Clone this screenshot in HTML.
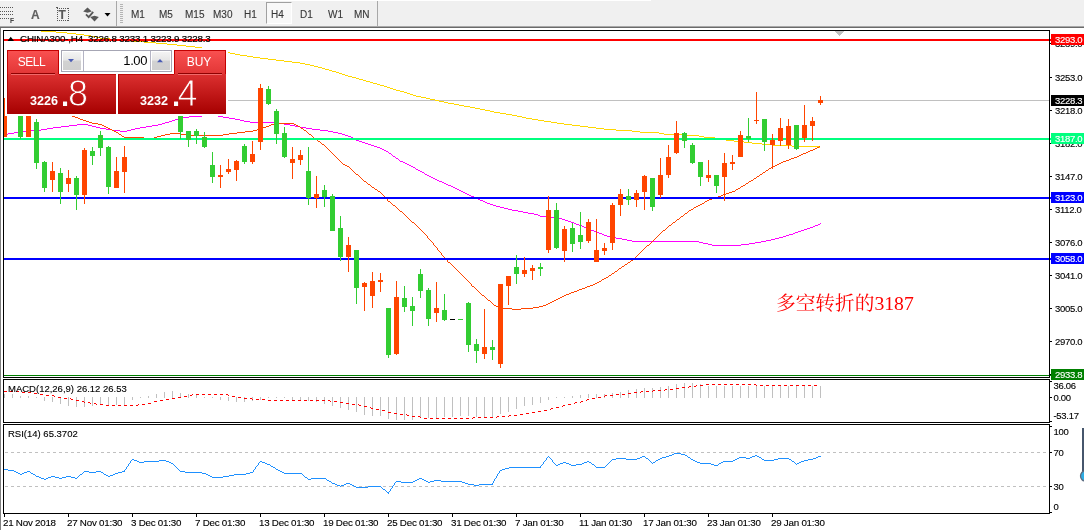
<!DOCTYPE html>
<html><head><meta charset="utf-8"><title>CHINA300 H4</title>
<style>
html,body{margin:0;padding:0;background:#fff}
body{width:1084px;height:530px;position:relative;overflow:hidden;font-family:"Liberation Sans",sans-serif;font-size:9px;color:#000}
div{position:absolute;white-space:nowrap}
.al,.pl,.dl,.il,.tf{-webkit-text-stroke:0.12px currentColor}
#tb{left:0;top:0;width:1084px;height:26px;background:#f0f0f0}
#tbw{left:0;top:0;width:651px;height:1px;background:#fff}
#tbl1{left:0;top:26px;width:1084px;height:1px;background:#a8a8a8}
#tbl2{left:0;top:27px;width:1084px;height:1px;background:#6a6a6a}
.tf{top:9px;font-size:10px;color:#383838;line-height:12px;height:12px}
.al{left:1055px;letter-spacing:-0.3px;font-size:9.5px;line-height:11px;height:11px}
.pl{left:1051px;width:33px;padding-left:4px;box-sizing:border-box;letter-spacing:-0.3px;font-size:9.5px;line-height:11px;height:11px}
.dl{top:517px;letter-spacing:-0.25px;font-size:9.8px;line-height:11px;height:11px}
.hd{left:20px;top:33px;-webkit-text-stroke:0.2px #000;letter-spacing:-0.2px;font-size:9.8px;line-height:11px;height:11px}
.il{left:8px;font-size:9.5px;line-height:11px;height:11px}
#note{left:776px;top:291px;font-family:"Liberation Serif","Noto Serif CJK SC",serif;font-size:19.7px;line-height:24px;color:#ff0000;font-weight:400}
/* one click panel */
#pw{left:5px;top:48px;width:223px;height:68px;background:#fff}
.pt{top:50px;height:24px;width:52px;background:linear-gradient(#f95050,#e23636);box-sizing:border-box;border-left:1px solid #c40000;border-right:1px solid #c40000;border-top:1px solid #c40000;color:#fff;font-size:12px;letter-spacing:-0.5px;line-height:23px;padding-right:3px;text-align:center}
.pb{top:74px;height:40px;background:linear-gradient(#dc3030,#a60000);box-sizing:border-box;border-left:1px solid #b00000;color:#fff}
.ul{height:1px;width:44px;top:73px;background:#8e0000}
.ul2{height:1px;width:44px;top:74px;background:#f06a6a}
.sm{font-weight:bold;font-size:12.6px;line-height:13px;top:21px}
.dot{font-weight:bold;font-size:29px;line-height:29px;top:8px}
.big{font-size:35.5px;line-height:36px;top:2px}
#vol{left:61px;top:50px;width:111px;height:22px;box-sizing:border-box;border:1px solid #a6a6b4;background:#fff}
.vb{top:1px;width:18px;height:18px;background:linear-gradient(#f4f4f4 0,#e6e6e6 45%,#d2d2d2 50%,#cfcfcf 100%);box-sizing:border-box}
#vt{right:24px;top:3px;font-size:13px;letter-spacing:-0.4px;line-height:14px}
.fld{left:21px;top:0;width:68px;height:20px;box-sizing:border-box;border-left:1px solid #b4b4c4;border-right:1px solid #b4b4c4}
</style></head><body>
<div id="tb"></div><div id="tbw"></div><div id="tbl1"></div><div id="tbl2"></div>
<svg id="chart" width="1084" height="530" viewBox="0 0 1084 530" style="position:absolute;left:0;top:0" shape-rendering="crispEdges">
<rect x="0" y="28" width="1084" height="502" fill="#fff"/>
<rect x="0" y="28" width="1" height="502" fill="#808080"/>
<rect x="4" y="100" width="1046" height="1" fill="#c0c0c0"/>
<path d="M41 31h15v1h-15zM56 32h11v1h-11zM67 33h9v1h-9zM76 34h8v1h-8zM84 35h7v1h-7zM91 36h5v1h-5zM96 37h4v1h-4zM100 38h10v1h-10zM110 39h10v1h-10zM120 40h11v1h-11zM131 41h13v1h-13zM144 42h12v1h-12zM156 43h11v1h-11zM167 44h10v1h-10zM177 45h9v1h-9zM186 46h9v1h-9zM195 47h7v1h-7zM202 48h6v1h-6zM208 49h5v1h-5zM213 50h6v1h-6zM219 51h5v1h-5zM224 52h6v1h-6zM230 53h5v1h-5zM235 54h5v1h-5zM240 55h7v1h-7zM247 56h6v1h-6zM253 57h7v1h-7zM260 58h8v1h-8zM268 59h8v1h-8zM276 60h8v1h-8zM284 61h8v1h-8zM292 62h8v1h-8zM300 63h5v1h-5zM305 64h5v1h-5zM310 65h4v1h-4zM314 66h4v1h-4zM318 67h4v1h-4zM322 68h3v1h-3zM325 69h4v1h-4zM329 70h3v1h-3zM332 71h4v1h-4zM336 72h3v1h-3zM339 73h3v1h-3zM342 74h3v1h-3zM345 75h3v1h-3zM348 76h4v1h-4zM352 77h4v1h-4zM356 78h3v1h-3zM359 79h4v1h-4zM363 80h3v1h-3zM366 81h4v1h-4zM370 82h3v1h-3zM373 83h4v1h-4zM377 84h3v1h-3zM380 85h4v1h-4zM384 86h3v1h-3zM387 87h3v1h-3zM390 88h3v1h-3zM393 89h3v1h-3zM396 90h4v1h-4zM400 91h4v1h-4zM404 92h3v1h-3zM407 93h3v1h-3zM410 94h3v1h-3zM413 95h3v1h-3zM416 96h5v1h-5zM421 97h5v1h-5zM426 98h4v1h-4zM430 99h5v1h-5zM435 100h4v1h-4zM439 101h5v1h-5zM444 102h4v1h-4zM448 103h6v1h-6zM454 104h5v1h-5zM459 105h5v1h-5zM464 106h6v1h-6zM470 107h5v1h-5zM475 108h5v1h-5zM480 109h5v1h-5zM485 110h5v1h-5zM490 111h4v1h-4zM494 112h6v1h-6zM500 113h6v1h-6zM506 114h6v1h-6zM512 115h5v1h-5zM517 116h5v1h-5zM522 117h4v1h-4zM526 118h6v1h-6zM532 119h6v1h-6zM538 120h6v1h-6zM544 121h7v1h-7zM551 122h6v1h-6zM557 123h7v1h-7zM564 124h8v1h-8zM572 125h8v1h-8zM580 126h8v1h-8zM588 127h8v1h-8zM596 128h8v1h-8zM604 129h12v1h-12zM616 130h16v1h-16zM632 131h8v1h-8zM640 132h19v1h-19zM659 133h5v1h-5zM664 134h22v1h-22zM686 135h13v1h-13zM699 136h5v1h-5zM704 137h11v1h-11zM715 138h5v1h-5zM720 139h6v1h-6zM726 140h8v1h-8zM734 141h10v1h-10zM744 142h8v1h-8zM752 143h10v1h-10zM762 144h10v1h-10zM772 145h20v1h-20zM792 146h27v1h-27zM819 147h1v1h-1z" fill="#ffd700"/>
<path d="M4 134h4v1h-4zM8 133h6v1h-6zM14 132h7v1h-7zM21 131h10v1h-10zM31 130h10v1h-10zM41 129h6v1h-6zM47 128h6v1h-6zM53 127h8v1h-8zM61 126h8v1h-8zM69 125h8v1h-8zM77 124h11v1h-11zM88 125h4v1h-4zM92 126h4v1h-4zM96 127h4v1h-4zM100 128h6v1h-6zM106 129h6v1h-6zM112 130h8v1h-8zM120 131h7v1h-7zM127 130h4v1h-4zM131 129h4v1h-4zM135 128h5v1h-5zM140 127h6v1h-6zM146 126h6v1h-6zM152 125h6v1h-6zM158 124h4v1h-4zM162 123h3v1h-3zM165 122h4v1h-4zM169 121h3v1h-3zM172 120h3v1h-3zM175 119h4v1h-4zM179 118h4v1h-4zM183 117h6v1h-6zM189 116h13v1h-13zM202 115h3v1h-3zM205 114h9v1h-9zM214 115h4v1h-4zM218 116h5v1h-5zM223 117h6v1h-6zM229 118h6v1h-6zM235 119h5v1h-5zM240 120h4v1h-4zM244 121h6v1h-6zM250 122h26v1h-26zM276 123h8v1h-8zM284 124h6v1h-6zM290 125h5v1h-5zM295 126h5v1h-5zM300 127h6v1h-6zM306 128h6v1h-6zM312 129h8v1h-8zM320 130h8v1h-8zM328 131h5v1h-5zM333 132h5v1h-5zM338 133h4v1h-4zM342 134h3v1h-3zM345 135h3v1h-3zM348 136h3v1h-3zM351 137h2v1h-2zM353 138h2v1h-2zM355 139h1v1h-1zM356 140h3v1h-3zM359 141h3v1h-3zM362 142h3v1h-3zM365 143h3v1h-3zM368 144h3v1h-3zM371 145h3v1h-3zM374 146h3v1h-3zM377 147h3v1h-3zM380 148h2v1h-2zM382 149h2v1h-2zM384 150h2v1h-2zM386 151h2v1h-2zM388 152h1v1h-1zM389 153h2v1h-2zM391 154h1v1h-1zM392 155h1v1h-1zM393 156h2v1h-2zM395 157h1v1h-1zM396 158h2v1h-2zM398 159h1v1h-1zM399 160h1v1h-1zM400 161h3v1h-3zM403 162h2v1h-2zM405 163h2v1h-2zM407 164h2v1h-2zM409 165h2v1h-2zM411 166h2v1h-2zM413 167h2v1h-2zM415 168h1v1h-1zM416 169h2v1h-2zM418 170h2v1h-2zM420 171h2v1h-2zM422 172h2v1h-2zM424 173h1v1h-1zM425 174h2v1h-2zM427 175h2v1h-2zM429 176h2v1h-2zM431 177h2v1h-2zM433 178h2v1h-2zM435 179h2v1h-2zM437 180h2v1h-2zM439 181h3v1h-3zM442 182h2v1h-2zM444 183h2v1h-2zM446 184h2v1h-2zM448 185h3v1h-3zM451 186h2v1h-2zM453 187h2v1h-2zM455 188h2v1h-2zM457 189h2v1h-2zM459 190h2v1h-2zM461 191h2v1h-2zM463 192h2v1h-2zM465 193h2v1h-2zM467 194h2v1h-2zM469 195h2v1h-2zM471 196h3v1h-3zM474 197h2v1h-2zM476 198h2v1h-2zM478 199h2v1h-2zM480 200h3v1h-3zM483 201h2v1h-2zM485 202h2v1h-2zM487 203h3v1h-3zM490 204h3v1h-3zM493 205h3v1h-3zM496 206h4v1h-4zM500 207h4v1h-4zM504 208h4v1h-4zM508 209h4v1h-4zM512 210h6v1h-6zM518 211h5v1h-5zM523 212h5v1h-5zM528 213h6v1h-6zM534 214h4v1h-4zM538 215h2v1h-2zM540 216h8v1h-8zM548 217h8v1h-8zM556 218h6v1h-6zM562 219h3v1h-3zM565 220h3v1h-3zM568 221h3v1h-3zM571 222h3v1h-3zM574 223h2v1h-2zM576 224h3v1h-3zM579 225h3v1h-3zM582 226h2v1h-2zM584 227h3v1h-3zM587 228h2v1h-2zM589 229h2v1h-2zM591 230h3v1h-3zM594 231h2v1h-2zM596 232h3v1h-3zM599 233h3v1h-3zM602 234h2v1h-2zM604 235h3v1h-3zM607 236h4v1h-4zM611 237h5v1h-5zM616 238h6v1h-6zM622 239h5v1h-5zM627 240h5v1h-5zM632 241h67v1h-67zM699 242h4v1h-4zM703 243h5v1h-5zM708 244h4v1h-4zM712 245h29v1h-29zM741 244h8v1h-8zM749 243h6v1h-6zM755 242h6v1h-6zM761 241h5v1h-5zM766 240h5v1h-5zM771 239h4v1h-4zM775 238h4v1h-4zM779 237h4v1h-4zM783 236h3v1h-3zM786 235h3v1h-3zM789 234h4v1h-4zM793 233h2v1h-2zM795 232h3v1h-3zM798 231h3v1h-3zM801 230h3v1h-3zM804 229h3v1h-3zM807 228h3v1h-3zM810 227h3v1h-3zM813 226h2v1h-2zM815 225h3v1h-3zM818 224h2v1h-2zM820 223h1v1h-1z" fill="#ff00ff"/>
<path d="M60 110h2v1h-2zM62 111h2v1h-2zM64 112h2v1h-2zM66 113h2v1h-2zM68 114h2v1h-2zM70 115h2v1h-2zM72 116h3v1h-3zM75 117h3v1h-3zM78 118h2v1h-2zM80 119h3v1h-3zM83 120h3v1h-3zM86 121h3v1h-3zM89 122h3v1h-3zM92 123h6v1h-6zM98 124h4v1h-4zM102 125h2v1h-2zM104 126h2v1h-2zM106 127h2v1h-2zM108 128h2v1h-2zM110 129h2v1h-2zM112 130h2v1h-2zM114 131h2v1h-2zM116 132h2v1h-2zM118 133h1v1h-1zM119 134h2v1h-2zM121 135h1v1h-1zM122 136h2v1h-2zM124 137h20v1h-20zM144 138h10v1h-10zM154 137h3v1h-3zM157 136h4v1h-4zM161 135h4v1h-4zM165 134h5v1h-5zM170 133h10v1h-10zM180 134h8v1h-8zM188 135h35v1h-35zM223 134h6v1h-6zM229 133h8v1h-8zM237 132h8v1h-8zM245 131h8v1h-8zM253 130h4v1h-4zM257 129h2v1h-2zM259 128h4v1h-4zM263 127h3v1h-3zM266 126h3v1h-3zM269 125h2v1h-2zM271 124h4v1h-4zM275 123h19v1h-19zM294 124h2v1h-2zM296 125h2v1h-2zM298 126h2v1h-2zM300 127h1v1h-1zM301 128h2v1h-2zM303 129h1v1h-1zM304 130h2v1h-2zM306 131h1v1h-1zM307 132h1v1h-1zM308 133h1v1h-1zM309 134h2v1h-2zM311 135h1v1h-1zM312 136h1v1h-1zM313 137h1v1h-1zM314 138h2v1h-2zM316 139h1v1h-1zM317 140h1v1h-1zM318 141h2v1h-2zM320 142h1v1h-1zM321 143h1v1h-1zM322 144h2v1h-2zM324 145h1v1h-1zM325 146h1v1h-1zM326 147h1v1h-1zM327 148h1v1h-1zM328 149h1v1h-1zM329 150h1v1h-1zM330 151h1v1h-1zM331 152h1v1h-1zM332 153h1v1h-1zM333 154h1v1h-1zM334 155h1v1h-1zM335 156h1v1h-1zM336 157h1v1h-1zM337 158h1v1h-1zM338 159h1v1h-1zM339 160h1v1h-1zM340 161h1v1h-1zM341 162h1v1h-1zM342 163h1v1h-1zM343 164h2v1h-2zM345 165h2v1h-2zM347 166h2v1h-2zM349 167h1v1h-1zM350 168h1v1h-1zM351 169h1v1h-1zM352 170h1v1h-1zM353 171h1v1h-1zM354 172h1v1h-1zM355 173h1v1h-1zM356 174h2v1h-2zM358 175h1v1h-1zM359 176h1v1h-1zM360 177h1v1h-1zM361 178h1v1h-1zM362 179h1v1h-1zM363 180h1v1h-1zM364 181h2v1h-2zM366 182h1v1h-1zM367 183h1v1h-1zM368 184h2v1h-2zM370 185h1v1h-1zM371 186h1v1h-1zM372 187h2v1h-2zM374 188h1v1h-1zM375 189h2v1h-2zM377 190h1v1h-1zM378 191h2v1h-2zM380 192h1v1h-1zM381 193h1v1h-1zM382 194h1v1h-1zM383 195h1v1h-1zM384 196h1v1h-1zM385 197h1v1h-1zM386 198h1v1h-1zM387 199h1v2h-1zM388 201h2v1h-2zM390 202h1v1h-1zM391 203h1v1h-1zM392 204h1v1h-1zM393 205h2v1h-2zM395 206h1v1h-1zM396 207h1v1h-1zM397 208h1v1h-1zM398 209h1v1h-1zM399 210h1v1h-1zM400 211h2v1h-2zM402 212h1v1h-1zM403 213h1v1h-1zM404 214h1v1h-1zM405 215h1v1h-1zM406 216h1v1h-1zM407 217h1v1h-1zM408 218h1v1h-1zM409 219h1v1h-1zM410 220h1v1h-1zM411 221h1v1h-1zM412 222h2v1h-2zM414 223h1v1h-1zM415 224h1v1h-1zM416 225h1v1h-1zM417 226h1v1h-1zM418 227h1v1h-1zM419 228h1v1h-1zM420 229h1v1h-1zM421 230h1v1h-1zM422 231h1v1h-1zM423 232h1v1h-1zM424 233h1v1h-1zM425 234h1v1h-1zM426 235h1v1h-1zM427 236h1v2h-1zM428 238h1v1h-1zM429 239h1v1h-1zM430 240h1v1h-1zM431 241h1v1h-1zM432 242h1v1h-1zM433 243h1v2h-1zM434 245h1v1h-1zM435 246h1v1h-1zM436 247h1v1h-1zM437 248h1v2h-1zM438 250h1v1h-1zM439 251h1v1h-1zM440 252h1v1h-1zM441 253h1v2h-1zM442 255h1v1h-1zM443 256h1v1h-1zM444 257h1v1h-1zM445 258h1v1h-1zM446 259h1v1h-1zM447 260h1v2h-1zM448 262h2v1h-2zM450 263h1v1h-1zM451 264h1v1h-1zM452 265h1v1h-1zM453 266h1v1h-1zM454 267h1v1h-1zM455 268h1v1h-1zM456 269h1v1h-1zM457 270h1v1h-1zM458 271h1v1h-1zM459 272h1v1h-1zM460 273h1v1h-1zM461 274h1v1h-1zM462 275h1v1h-1zM463 276h1v1h-1zM464 277h1v1h-1zM465 278h1v1h-1zM466 279h1v1h-1zM467 280h1v1h-1zM468 281h1v1h-1zM469 282h1v1h-1zM470 283h1v1h-1zM471 284h1v2h-1zM472 286h2v1h-2zM474 287h1v1h-1zM475 288h1v1h-1zM476 289h1v1h-1zM477 290h1v1h-1zM478 291h1v1h-1zM479 292h1v1h-1zM480 293h1v1h-1zM481 294h1v1h-1zM482 295h2v1h-2zM484 296h1v1h-1zM485 297h1v1h-1zM486 298h1v1h-1zM487 299h1v1h-1zM488 300h2v1h-2zM490 301h1v1h-1zM491 302h1v1h-1zM492 303h1v1h-1zM493 304h1v1h-1zM494 305h2v1h-2zM496 306h2v1h-2zM498 307h2v1h-2zM500 308h12v1h-12zM512 309h9v1h-9zM521 308h12v1h-12zM533 307h6v1h-6zM539 306h4v1h-4zM543 305h3v1h-3zM546 304h2v1h-2zM548 303h2v1h-2zM550 302h2v1h-2zM552 301h2v1h-2zM554 300h2v1h-2zM556 299h2v1h-2zM558 298h2v1h-2zM560 297h2v1h-2zM562 296h2v1h-2zM564 295h2v1h-2zM566 294h3v1h-3zM569 293h2v1h-2zM571 292h3v1h-3zM574 291h3v1h-3zM577 290h2v1h-2zM579 289h3v1h-3zM582 288h3v1h-3zM585 287h2v1h-2zM587 286h3v1h-3zM590 285h3v1h-3zM593 284h2v1h-2zM595 283h2v1h-2zM597 282h2v1h-2zM599 281h2v1h-2zM601 280h1v1h-1zM602 279h2v1h-2zM604 278h2v1h-2zM606 277h2v1h-2zM608 276h1v1h-1zM609 275h2v1h-2zM611 274h1v1h-1zM612 273h2v1h-2zM614 272h1v1h-1zM615 271h2v1h-2zM617 270h1v1h-1zM618 269h1v1h-1zM619 268h2v1h-2zM621 267h1v1h-1zM622 266h2v1h-2zM624 265h1v1h-1zM625 264h2v1h-2zM627 263h1v1h-1zM628 262h2v1h-2zM630 261h1v1h-1zM631 260h2v1h-2zM633 259h1v1h-1zM634 258h1v1h-1zM635 257h1v1h-1zM636 256h1v1h-1zM637 255h1v1h-1zM638 254h1v1h-1zM639 253h1v1h-1zM640 252h1v1h-1zM641 251h1v1h-1zM642 250h1v1h-1zM643 249h1v1h-1zM644 248h1v1h-1zM645 247h1v1h-1zM646 246h1v1h-1zM647 245h2v1h-2zM649 244h1v1h-1zM650 243h1v1h-1zM651 242h1v1h-1zM652 241h1v1h-1zM653 240h1v1h-1zM654 239h1v1h-1zM655 238h1v1h-1zM656 237h1v1h-1zM657 236h1v1h-1zM658 235h1v1h-1zM659 234h1v1h-1zM660 233h1v1h-1zM661 232h1v1h-1zM662 231h1v1h-1zM663 230h2v1h-2zM665 229h1v1h-1zM666 228h1v1h-1zM667 227h1v1h-1zM668 226h1v1h-1zM669 225h2v1h-2zM671 224h1v1h-1zM672 223h1v1h-1zM673 222h2v1h-2zM675 221h1v1h-1zM676 220h1v1h-1zM677 219h2v1h-2zM679 218h1v1h-1zM680 217h1v1h-1zM681 216h2v1h-2zM683 215h1v1h-1zM684 214h1v1h-1zM685 213h2v1h-2zM687 212h1v1h-1zM688 211h1v1h-1zM689 210h2v1h-2zM691 209h2v1h-2zM693 208h1v1h-1zM694 207h2v1h-2zM696 206h2v1h-2zM698 205h2v1h-2zM700 204h2v1h-2zM702 203h2v1h-2zM704 202h1v1h-1zM705 201h2v1h-2zM707 200h2v1h-2zM709 199h3v1h-3zM712 198h3v1h-3zM715 197h3v1h-3zM718 196h3v1h-3zM721 195h2v1h-2zM723 194h3v1h-3zM726 193h3v1h-3zM729 192h3v1h-3zM732 191h3v1h-3zM735 190h1v1h-1zM736 189h2v1h-2zM738 188h2v1h-2zM740 187h1v1h-1zM741 186h2v1h-2zM743 185h2v1h-2zM745 184h1v1h-1zM746 183h2v1h-2zM748 182h1v1h-1zM749 181h2v1h-2zM751 180h2v1h-2zM753 179h1v1h-1zM754 178h2v1h-2zM756 177h1v1h-1zM757 176h2v1h-2zM759 175h1v1h-1zM760 174h2v1h-2zM762 173h1v1h-1zM763 172h2v1h-2zM765 171h1v1h-1zM766 170h2v1h-2zM768 169h1v1h-1zM769 168h2v1h-2zM771 167h2v1h-2zM773 166h2v1h-2zM775 165h2v1h-2zM777 164h2v1h-2zM779 163h2v1h-2zM781 162h2v1h-2zM783 161h3v1h-3zM786 160h3v1h-3zM789 159h2v1h-2zM791 158h3v1h-3zM794 157h3v1h-3zM797 156h2v1h-2zM799 155h2v1h-2zM801 154h2v1h-2zM803 153h3v1h-3zM806 152h2v1h-2zM808 151h2v1h-2zM810 150h3v1h-3zM813 149h2v1h-2zM815 148h2v1h-2zM817 147h2v1h-2zM819 146h1v1h-1z" fill="#ff4500"/>
<rect x="4" y="39" width="1047" height="2" fill="#ff0000"/>
<rect x="4" y="138" width="1047" height="2" fill="#00ff7f"/>
<rect x="4" y="197" width="1047" height="2" fill="#0000ff"/>
<rect x="4" y="258" width="1047" height="2" fill="#0000ff"/>
<rect x="4" y="375" width="1047" height="1" fill="#008000"/>
<rect x="4" y="98" width="1" height="39" fill="#ff4500"/>
<rect x="4" y="98" width="3" height="39" fill="#ff4500"/>
<rect x="20" y="100" width="1" height="39" fill="#32cd32"/>
<rect x="18" y="100" width="5" height="37" fill="#32cd32"/>
<rect x="28" y="100" width="1" height="37" fill="#ff4500"/>
<rect x="26" y="100" width="5" height="37" fill="#ff4500"/>
<rect x="36" y="119" width="1" height="50" fill="#32cd32"/>
<rect x="34" y="122" width="5" height="41" fill="#32cd32"/>
<rect x="44" y="161" width="1" height="31" fill="#32cd32"/>
<rect x="42" y="162" width="5" height="26" fill="#32cd32"/>
<rect x="52" y="162" width="1" height="30" fill="#ff4500"/>
<rect x="50" y="171" width="5" height="9" fill="#ff4500"/>
<rect x="60" y="168" width="1" height="36" fill="#32cd32"/>
<rect x="58" y="173" width="5" height="19" fill="#32cd32"/>
<rect x="68" y="170" width="1" height="22" fill="#ff4500"/>
<rect x="66" y="178" width="5" height="6" fill="#ff4500"/>
<rect x="76" y="176" width="1" height="34" fill="#32cd32"/>
<rect x="74" y="178" width="5" height="17" fill="#32cd32"/>
<rect x="84" y="148" width="1" height="56" fill="#ff4500"/>
<rect x="82" y="150" width="5" height="45" fill="#ff4500"/>
<rect x="92" y="147" width="1" height="18" fill="#32cd32"/>
<rect x="90" y="151" width="5" height="5" fill="#32cd32"/>
<rect x="100" y="131" width="1" height="25" fill="#32cd32"/>
<rect x="98" y="135" width="5" height="13" fill="#32cd32"/>
<rect x="108" y="146" width="1" height="48" fill="#32cd32"/>
<rect x="106" y="147" width="5" height="40" fill="#32cd32"/>
<rect x="116" y="157" width="1" height="31" fill="#ff4500"/>
<rect x="114" y="171" width="5" height="17" fill="#ff4500"/>
<rect x="124" y="146" width="1" height="47" fill="#ff4500"/>
<rect x="122" y="157" width="5" height="15" fill="#ff4500"/>
<rect x="180" y="100" width="1" height="39" fill="#32cd32"/>
<rect x="178" y="100" width="5" height="32" fill="#32cd32"/>
<rect x="188" y="131" width="1" height="16" fill="#32cd32"/>
<rect x="186" y="131" width="5" height="9" fill="#32cd32"/>
<rect x="196" y="129" width="1" height="15" fill="#32cd32"/>
<rect x="194" y="131" width="5" height="5" fill="#32cd32"/>
<rect x="204" y="132" width="1" height="16" fill="#32cd32"/>
<rect x="202" y="137" width="5" height="10" fill="#32cd32"/>
<rect x="212" y="152" width="1" height="31" fill="#32cd32"/>
<rect x="210" y="165" width="5" height="12" fill="#32cd32"/>
<rect x="220" y="165" width="1" height="23" fill="#ff4500"/>
<rect x="218" y="175" width="5" height="2" fill="#ff4500"/>
<rect x="228" y="159" width="1" height="15" fill="#ff4500"/>
<rect x="226" y="169" width="5" height="3" fill="#ff4500"/>
<rect x="236" y="160" width="1" height="21" fill="#ff4500"/>
<rect x="234" y="161" width="5" height="9" fill="#ff4500"/>
<rect x="244" y="144" width="1" height="20" fill="#32cd32"/>
<rect x="242" y="146" width="5" height="16" fill="#32cd32"/>
<rect x="252" y="141" width="1" height="23" fill="#ff4500"/>
<rect x="250" y="154" width="5" height="8" fill="#ff4500"/>
<rect x="260" y="84" width="1" height="66" fill="#ff4500"/>
<rect x="258" y="88" width="5" height="54" fill="#ff4500"/>
<rect x="268" y="86" width="1" height="19" fill="#32cd32"/>
<rect x="266" y="89" width="5" height="15" fill="#32cd32"/>
<rect x="276" y="109" width="1" height="35" fill="#32cd32"/>
<rect x="274" y="111" width="5" height="23" fill="#32cd32"/>
<rect x="284" y="127" width="1" height="31" fill="#32cd32"/>
<rect x="282" y="133" width="5" height="24" fill="#32cd32"/>
<rect x="292" y="147" width="1" height="32" fill="#ff4500"/>
<rect x="290" y="159" width="5" height="4" fill="#ff4500"/>
<rect x="300" y="150" width="1" height="15" fill="#ff4500"/>
<rect x="298" y="155" width="5" height="5" fill="#ff4500"/>
<rect x="308" y="147" width="1" height="58" fill="#32cd32"/>
<rect x="306" y="171" width="5" height="27" fill="#32cd32"/>
<rect x="316" y="176" width="1" height="32" fill="#ff4500"/>
<rect x="314" y="194" width="5" height="4" fill="#ff4500"/>
<rect x="324" y="185" width="1" height="22" fill="#32cd32"/>
<rect x="322" y="190" width="5" height="7" fill="#32cd32"/>
<rect x="332" y="194" width="1" height="37" fill="#32cd32"/>
<rect x="330" y="196" width="5" height="35" fill="#32cd32"/>
<rect x="340" y="216" width="1" height="45" fill="#32cd32"/>
<rect x="338" y="228" width="5" height="29" fill="#32cd32"/>
<rect x="348" y="237" width="1" height="35" fill="#ff4500"/>
<rect x="346" y="245" width="5" height="12" fill="#ff4500"/>
<rect x="356" y="250" width="1" height="54" fill="#32cd32"/>
<rect x="354" y="250" width="5" height="38" fill="#32cd32"/>
<rect x="364" y="282" width="1" height="29" fill="#ff4500"/>
<rect x="362" y="283" width="5" height="4" fill="#ff4500"/>
<rect x="372" y="272" width="1" height="36" fill="#ff4500"/>
<rect x="370" y="281" width="5" height="15" fill="#ff4500"/>
<rect x="380" y="273" width="1" height="19" fill="#ff4500"/>
<rect x="378" y="280" width="5" height="2" fill="#ff4500"/>
<rect x="388" y="308" width="1" height="50" fill="#32cd32"/>
<rect x="386" y="308" width="5" height="47" fill="#32cd32"/>
<rect x="396" y="281" width="1" height="74" fill="#ff4500"/>
<rect x="394" y="297" width="5" height="57" fill="#ff4500"/>
<rect x="404" y="286" width="1" height="26" fill="#32cd32"/>
<rect x="402" y="298" width="5" height="9" fill="#32cd32"/>
<rect x="412" y="297" width="1" height="29" fill="#32cd32"/>
<rect x="410" y="306" width="5" height="5" fill="#32cd32"/>
<rect x="420" y="269" width="1" height="29" fill="#32cd32"/>
<rect x="418" y="274" width="5" height="17" fill="#32cd32"/>
<rect x="428" y="288" width="1" height="38" fill="#32cd32"/>
<rect x="426" y="290" width="5" height="29" fill="#32cd32"/>
<rect x="436" y="282" width="1" height="40" fill="#ff4500"/>
<rect x="434" y="308" width="5" height="5" fill="#ff4500"/>
<rect x="444" y="294" width="1" height="27" fill="#32cd32"/>
<rect x="442" y="310" width="5" height="10" fill="#32cd32"/>
<rect x="468" y="302" width="1" height="50" fill="#32cd32"/>
<rect x="466" y="303" width="5" height="42" fill="#32cd32"/>
<rect x="476" y="339" width="1" height="24" fill="#32cd32"/>
<rect x="474" y="344" width="5" height="7" fill="#32cd32"/>
<rect x="484" y="309" width="1" height="50" fill="#ff4500"/>
<rect x="482" y="347" width="5" height="7" fill="#ff4500"/>
<rect x="492" y="340" width="1" height="20" fill="#32cd32"/>
<rect x="490" y="347" width="5" height="3" fill="#32cd32"/>
<rect x="500" y="284" width="1" height="84" fill="#ff4500"/>
<rect x="498" y="284" width="5" height="80" fill="#ff4500"/>
<rect x="508" y="276" width="1" height="29" fill="#ff4500"/>
<rect x="506" y="276" width="5" height="10" fill="#ff4500"/>
<rect x="516" y="255" width="1" height="29" fill="#32cd32"/>
<rect x="514" y="267" width="5" height="7" fill="#32cd32"/>
<rect x="524" y="257" width="1" height="20" fill="#ff4500"/>
<rect x="522" y="270" width="5" height="4" fill="#ff4500"/>
<rect x="532" y="265" width="1" height="15" fill="#ff4500"/>
<rect x="530" y="268" width="5" height="3" fill="#ff4500"/>
<rect x="540" y="263" width="1" height="13" fill="#32cd32"/>
<rect x="538" y="267" width="5" height="2" fill="#32cd32"/>
<rect x="548" y="196" width="1" height="57" fill="#ff4500"/>
<rect x="546" y="210" width="5" height="40" fill="#ff4500"/>
<rect x="556" y="203" width="1" height="46" fill="#32cd32"/>
<rect x="554" y="210" width="5" height="38" fill="#32cd32"/>
<rect x="564" y="226" width="1" height="36" fill="#ff4500"/>
<rect x="562" y="229" width="5" height="22" fill="#ff4500"/>
<rect x="572" y="223" width="1" height="29" fill="#32cd32"/>
<rect x="570" y="228" width="5" height="16" fill="#32cd32"/>
<rect x="580" y="212" width="1" height="37" fill="#32cd32"/>
<rect x="578" y="235" width="5" height="7" fill="#32cd32"/>
<rect x="588" y="219" width="1" height="24" fill="#ff4500"/>
<rect x="586" y="222" width="5" height="19" fill="#ff4500"/>
<rect x="596" y="219" width="1" height="43" fill="#ff4500"/>
<rect x="594" y="250" width="5" height="12" fill="#ff4500"/>
<rect x="604" y="243" width="1" height="12" fill="#ff4500"/>
<rect x="602" y="248" width="5" height="3" fill="#ff4500"/>
<rect x="612" y="203" width="1" height="47" fill="#ff4500"/>
<rect x="610" y="205" width="5" height="38" fill="#ff4500"/>
<rect x="620" y="189" width="1" height="27" fill="#ff4500"/>
<rect x="618" y="194" width="5" height="11" fill="#ff4500"/>
<rect x="628" y="189" width="1" height="16" fill="#32cd32"/>
<rect x="626" y="196" width="5" height="4" fill="#32cd32"/>
<rect x="636" y="190" width="1" height="17" fill="#ff4500"/>
<rect x="634" y="193" width="5" height="7" fill="#ff4500"/>
<rect x="644" y="175" width="1" height="35" fill="#ff4500"/>
<rect x="642" y="176" width="5" height="16" fill="#ff4500"/>
<rect x="652" y="178" width="1" height="33" fill="#32cd32"/>
<rect x="650" y="178" width="5" height="29" fill="#32cd32"/>
<rect x="660" y="158" width="1" height="40" fill="#ff4500"/>
<rect x="658" y="175" width="5" height="20" fill="#ff4500"/>
<rect x="668" y="145" width="1" height="33" fill="#ff4500"/>
<rect x="666" y="157" width="5" height="18" fill="#ff4500"/>
<rect x="676" y="121" width="1" height="33" fill="#ff4500"/>
<rect x="674" y="133" width="5" height="20" fill="#ff4500"/>
<rect x="684" y="132" width="1" height="16" fill="#32cd32"/>
<rect x="682" y="133" width="5" height="8" fill="#32cd32"/>
<rect x="692" y="143" width="1" height="21" fill="#32cd32"/>
<rect x="690" y="145" width="5" height="18" fill="#32cd32"/>
<rect x="700" y="162" width="1" height="24" fill="#32cd32"/>
<rect x="698" y="162" width="5" height="15" fill="#32cd32"/>
<rect x="708" y="160" width="1" height="22" fill="#ff4500"/>
<rect x="706" y="175" width="5" height="3" fill="#ff4500"/>
<rect x="716" y="175" width="1" height="18" fill="#32cd32"/>
<rect x="714" y="175" width="5" height="11" fill="#32cd32"/>
<rect x="724" y="153" width="1" height="48" fill="#ff4500"/>
<rect x="722" y="163" width="5" height="14" fill="#ff4500"/>
<rect x="732" y="155" width="1" height="15" fill="#ff4500"/>
<rect x="730" y="162" width="5" height="2" fill="#ff4500"/>
<rect x="740" y="131" width="1" height="26" fill="#ff4500"/>
<rect x="738" y="135" width="5" height="22" fill="#ff4500"/>
<rect x="748" y="118" width="1" height="24" fill="#32cd32"/>
<rect x="746" y="136" width="5" height="3" fill="#32cd32"/>
<rect x="756" y="92" width="1" height="32" fill="#ff4500"/>
<rect x="754" y="120" width="5" height="1" fill="#ff4500"/>
<rect x="764" y="119" width="1" height="32" fill="#32cd32"/>
<rect x="762" y="119" width="5" height="23" fill="#32cd32"/>
<rect x="772" y="134" width="1" height="35" fill="#ff4500"/>
<rect x="770" y="140" width="5" height="5" fill="#ff4500"/>
<rect x="780" y="118" width="1" height="28" fill="#ff4500"/>
<rect x="778" y="128" width="5" height="13" fill="#ff4500"/>
<rect x="788" y="119" width="1" height="30" fill="#ff4500"/>
<rect x="786" y="126" width="5" height="19" fill="#ff4500"/>
<rect x="796" y="125" width="1" height="25" fill="#32cd32"/>
<rect x="794" y="125" width="5" height="24" fill="#32cd32"/>
<rect x="804" y="105" width="1" height="37" fill="#ff4500"/>
<rect x="802" y="125" width="5" height="13" fill="#ff4500"/>
<rect x="812" y="117" width="1" height="24" fill="#ff4500"/>
<rect x="810" y="121" width="5" height="5" fill="#ff4500"/>
<rect x="820" y="96" width="1" height="9" fill="#ff4500"/>
<rect x="818" y="100" width="5" height="3" fill="#ff4500"/>
<rect x="450" y="319" width="5" height="1" fill="#000"/>
<rect x="458" y="319" width="5" height="1" fill="#32cd32"/>
<polygon points="834,31 844,31 839,36" fill="#c0c0c0"/>
<rect x="3" y="30" width="1047" height="1" fill="#000"/>
<rect x="3" y="30" width="1" height="484" fill="#000"/>
<rect x="1049" y="30" width="1" height="484" fill="#000"/>
<rect x="3" y="377" width="1047" height="1" fill="#000"/>
<rect x="3" y="378" width="1047" height="1" fill="#fff"/>
<rect x="3" y="379" width="1047" height="1" fill="#000"/>
<rect x="3" y="422" width="1047" height="1" fill="#000"/>
<rect x="3" y="423" width="1047" height="1" fill="#fff"/>
<rect x="3" y="424" width="1047" height="1" fill="#000"/>
<rect x="3" y="513" width="1047" height="1" fill="#000"/>
<rect x="4" y="394" width="1" height="4" fill="#c0c0c0"/>
<rect x="12" y="394" width="1" height="4" fill="#c0c0c0"/>
<rect x="20" y="396" width="1" height="2" fill="#c0c0c0"/>
<rect x="28" y="396" width="1" height="2" fill="#c0c0c0"/>
<rect x="36" y="397" width="1" height="1" fill="#c0c0c0"/>
<rect x="44" y="397" width="1" height="4" fill="#c0c0c0"/>
<rect x="52" y="397" width="1" height="5" fill="#c0c0c0"/>
<rect x="60" y="397" width="1" height="7" fill="#c0c0c0"/>
<rect x="68" y="397" width="1" height="9" fill="#c0c0c0"/>
<rect x="76" y="397" width="1" height="10" fill="#c0c0c0"/>
<rect x="84" y="397" width="1" height="10" fill="#c0c0c0"/>
<rect x="92" y="397" width="1" height="9" fill="#c0c0c0"/>
<rect x="100" y="397" width="1" height="7" fill="#c0c0c0"/>
<rect x="108" y="397" width="1" height="8" fill="#c0c0c0"/>
<rect x="116" y="397" width="1" height="8" fill="#c0c0c0"/>
<rect x="124" y="397" width="1" height="9" fill="#c0c0c0"/>
<rect x="132" y="397" width="1" height="3" fill="#c0c0c0"/>
<rect x="140" y="397" width="1" height="1" fill="#c0c0c0"/>
<rect x="148" y="396" width="1" height="2" fill="#c0c0c0"/>
<rect x="156" y="394" width="1" height="4" fill="#c0c0c0"/>
<rect x="164" y="392" width="1" height="6" fill="#c0c0c0"/>
<rect x="172" y="391" width="1" height="7" fill="#c0c0c0"/>
<rect x="180" y="393" width="1" height="5" fill="#c0c0c0"/>
<rect x="188" y="394" width="1" height="4" fill="#c0c0c0"/>
<rect x="196" y="395" width="1" height="3" fill="#c0c0c0"/>
<rect x="204" y="397" width="1" height="1" fill="#c0c0c0"/>
<rect x="212" y="397" width="1" height="1" fill="#c0c0c0"/>
<rect x="220" y="397" width="1" height="3" fill="#c0c0c0"/>
<rect x="228" y="397" width="1" height="4" fill="#c0c0c0"/>
<rect x="236" y="397" width="1" height="5" fill="#c0c0c0"/>
<rect x="244" y="397" width="1" height="5" fill="#c0c0c0"/>
<rect x="252" y="397" width="1" height="4" fill="#c0c0c0"/>
<rect x="260" y="397" width="1" height="3" fill="#c0c0c0"/>
<rect x="268" y="397" width="1" height="1" fill="#c0c0c0"/>
<rect x="276" y="397" width="1" height="1" fill="#c0c0c0"/>
<rect x="284" y="397" width="1" height="1" fill="#c0c0c0"/>
<rect x="292" y="397" width="1" height="3" fill="#c0c0c0"/>
<rect x="300" y="397" width="1" height="3" fill="#c0c0c0"/>
<rect x="308" y="397" width="1" height="4" fill="#c0c0c0"/>
<rect x="316" y="397" width="1" height="5" fill="#c0c0c0"/>
<rect x="324" y="397" width="1" height="7" fill="#c0c0c0"/>
<rect x="332" y="397" width="1" height="9" fill="#c0c0c0"/>
<rect x="340" y="397" width="1" height="11" fill="#c0c0c0"/>
<rect x="348" y="397" width="1" height="13" fill="#c0c0c0"/>
<rect x="356" y="397" width="1" height="15" fill="#c0c0c0"/>
<rect x="364" y="397" width="1" height="18" fill="#c0c0c0"/>
<rect x="372" y="397" width="1" height="19" fill="#c0c0c0"/>
<rect x="380" y="397" width="1" height="19" fill="#c0c0c0"/>
<rect x="388" y="397" width="1" height="22" fill="#c0c0c0"/>
<rect x="396" y="397" width="1" height="23" fill="#c0c0c0"/>
<rect x="404" y="397" width="1" height="23" fill="#c0c0c0"/>
<rect x="412" y="397" width="1" height="23" fill="#c0c0c0"/>
<rect x="420" y="397" width="1" height="21" fill="#c0c0c0"/>
<rect x="428" y="397" width="1" height="21" fill="#c0c0c0"/>
<rect x="436" y="397" width="1" height="21" fill="#c0c0c0"/>
<rect x="444" y="397" width="1" height="20" fill="#c0c0c0"/>
<rect x="452" y="397" width="1" height="20" fill="#c0c0c0"/>
<rect x="460" y="397" width="1" height="19" fill="#c0c0c0"/>
<rect x="468" y="397" width="1" height="19" fill="#c0c0c0"/>
<rect x="476" y="397" width="1" height="20" fill="#c0c0c0"/>
<rect x="484" y="397" width="1" height="20" fill="#c0c0c0"/>
<rect x="492" y="397" width="1" height="20" fill="#c0c0c0"/>
<rect x="500" y="397" width="1" height="17" fill="#c0c0c0"/>
<rect x="508" y="397" width="1" height="15" fill="#c0c0c0"/>
<rect x="516" y="397" width="1" height="12" fill="#c0c0c0"/>
<rect x="524" y="397" width="1" height="9" fill="#c0c0c0"/>
<rect x="532" y="397" width="1" height="8" fill="#c0c0c0"/>
<rect x="540" y="397" width="1" height="6" fill="#c0c0c0"/>
<rect x="548" y="397" width="1" height="3" fill="#c0c0c0"/>
<rect x="556" y="397" width="1" height="1" fill="#c0c0c0"/>
<rect x="564" y="397" width="1" height="1" fill="#c0c0c0"/>
<rect x="572" y="396" width="1" height="2" fill="#c0c0c0"/>
<rect x="580" y="395" width="1" height="3" fill="#c0c0c0"/>
<rect x="588" y="394" width="1" height="4" fill="#c0c0c0"/>
<rect x="596" y="394" width="1" height="4" fill="#c0c0c0"/>
<rect x="604" y="394" width="1" height="4" fill="#c0c0c0"/>
<rect x="612" y="393" width="1" height="5" fill="#c0c0c0"/>
<rect x="620" y="392" width="1" height="6" fill="#c0c0c0"/>
<rect x="628" y="390" width="1" height="8" fill="#c0c0c0"/>
<rect x="636" y="389" width="1" height="9" fill="#c0c0c0"/>
<rect x="644" y="388" width="1" height="10" fill="#c0c0c0"/>
<rect x="652" y="388" width="1" height="10" fill="#c0c0c0"/>
<rect x="660" y="387" width="1" height="11" fill="#c0c0c0"/>
<rect x="668" y="386" width="1" height="12" fill="#c0c0c0"/>
<rect x="676" y="384" width="1" height="14" fill="#c0c0c0"/>
<rect x="684" y="383" width="1" height="15" fill="#c0c0c0"/>
<rect x="692" y="383" width="1" height="15" fill="#c0c0c0"/>
<rect x="700" y="384" width="1" height="14" fill="#c0c0c0"/>
<rect x="708" y="386" width="1" height="12" fill="#c0c0c0"/>
<rect x="716" y="386" width="1" height="12" fill="#c0c0c0"/>
<rect x="724" y="386" width="1" height="12" fill="#c0c0c0"/>
<rect x="732" y="386" width="1" height="12" fill="#c0c0c0"/>
<rect x="740" y="386" width="1" height="12" fill="#c0c0c0"/>
<rect x="748" y="386" width="1" height="12" fill="#c0c0c0"/>
<rect x="756" y="385" width="1" height="13" fill="#c0c0c0"/>
<rect x="764" y="386" width="1" height="12" fill="#c0c0c0"/>
<rect x="772" y="386" width="1" height="12" fill="#c0c0c0"/>
<rect x="780" y="386" width="1" height="12" fill="#c0c0c0"/>
<rect x="788" y="386" width="1" height="12" fill="#c0c0c0"/>
<rect x="796" y="386" width="1" height="12" fill="#c0c0c0"/>
<rect x="804" y="386" width="1" height="12" fill="#c0c0c0"/>
<rect x="812" y="386" width="1" height="12" fill="#c0c0c0"/>
<rect x="820" y="386" width="1" height="12" fill="#c0c0c0"/>
<path d="M4 391h3v1h-3zM10 391h3v1h-3zM16 391h3v1h-3zM22 392h3v1h-3zM28 392h3v1h-3zM34 393h3v1h-3zM40 394h3v1h-3zM46 395h3v1h-3zM52 395h2v1h-2zM54 396h1v1h-1zM58 397h3v1h-3zM64 398h3v1h-3zM70 398h1v1h-1zM71 399h2v1h-2zM76 400h3v1h-3zM82 401h2v1h-2zM84 402h1v1h-1zM88 402h2v1h-2zM90 403h1v1h-1zM94 403h2v1h-2zM96 404h1v1h-1zM100 404h3v1h-3zM106 405h3v1h-3zM112 405h3v1h-3zM118 405h3v1h-3zM124 405h3v1h-3zM130 405h3v1h-3zM136 405h2v1h-2zM138 404h1v1h-1zM142 404h3v1h-3zM148 403h3v1h-3zM154 401h3v1h-3zM160 400h3v1h-3zM166 399h3v1h-3zM172 398h3v1h-3zM178 397h3v1h-3zM184 396h3v1h-3zM190 395h2v1h-2zM192 394h1v1h-1zM196 394h3v1h-3zM202 394h3v1h-3zM208 394h3v1h-3zM214 394h3v1h-3zM220 394h3v1h-3zM226 394h2v1h-2zM228 395h1v1h-1zM232 396h3v1h-3zM238 397h3v1h-3zM244 398h3v1h-3zM250 398h2v1h-2zM252 399h1v1h-1zM256 399h3v1h-3zM262 399h3v1h-3zM268 400h3v1h-3zM274 400h3v1h-3zM280 400h3v1h-3zM286 400h3v1h-3zM292 400h3v1h-3zM298 400h3v1h-3zM304 400h3v1h-3zM310 400h3v1h-3zM316 400h3v1h-3zM322 400h3v1h-3zM328 400h2v1h-2zM330 401h1v1h-1zM334 401h3v1h-3zM340 402h3v1h-3zM346 403h3v1h-3zM352 404h3v1h-3zM358 404h1v1h-1zM359 405h2v1h-2zM364 406h3v1h-3zM370 407h1v1h-1zM371 408h2v1h-2zM376 409h3v1h-3zM382 410h3v1h-3zM388 412h3v1h-3zM394 413h3v1h-3zM400 414h3v1h-3zM406 414h1v1h-1zM407 415h2v1h-2zM412 416h3v1h-3zM418 416h2v1h-2zM420 417h1v1h-1zM424 418h3v1h-3zM430 418h3v1h-3zM436 418h3v1h-3zM442 418h3v1h-3zM448 418h3v1h-3zM454 418h3v1h-3zM460 418h3v1h-3zM466 418h3v1h-3zM472 418h1v1h-1zM473 417h2v1h-2zM478 417h3v1h-3zM484 417h3v1h-3zM490 417h3v1h-3zM496 417h1v1h-1zM497 416h2v1h-2zM502 416h3v1h-3zM508 416h1v1h-1zM509 415h2v1h-2zM514 415h3v1h-3zM520 414h3v1h-3zM526 413h3v1h-3zM532 412h3v1h-3zM538 411h3v1h-3zM544 410h3v1h-3zM550 409h1v1h-1zM551 408h2v1h-2zM556 407h3v1h-3zM562 406h1v1h-1zM563 405h2v1h-2zM568 404h3v1h-3zM574 403h1v1h-1zM575 402h2v1h-2zM580 402h1v1h-1zM581 401h2v1h-2zM586 400h1v1h-1zM587 399h2v1h-2zM592 398h3v1h-3zM598 397h3v1h-3zM604 396h1v1h-1zM605 395h2v1h-2zM610 395h3v1h-3zM616 394h3v1h-3zM622 394h3v1h-3zM628 393h3v1h-3zM634 392h3v1h-3zM640 392h1v1h-1zM641 391h2v1h-2zM646 391h3v1h-3zM652 391h1v1h-1zM653 390h2v1h-2zM658 390h3v1h-3zM664 390h1v1h-1zM665 389h2v1h-2zM670 389h3v1h-3zM676 388h3v1h-3zM682 387h3v1h-3zM688 387h1v1h-1zM689 386h2v1h-2zM694 386h2v1h-2zM696 385h1v1h-1zM700 385h3v1h-3zM706 384h3v1h-3zM712 384h3v1h-3zM718 384h3v1h-3zM724 384h3v1h-3zM730 384h3v1h-3zM736 384h3v1h-3zM742 384h3v1h-3zM748 384h3v1h-3zM754 384h2v1h-2zM756 385h1v1h-1zM760 385h3v1h-3zM766 385h3v1h-3zM772 385h3v1h-3zM778 385h3v1h-3zM784 385h3v1h-3zM790 385h3v1h-3zM796 385h3v1h-3zM802 385h3v1h-3zM808 385h3v1h-3zM814 385h3v1h-3z" fill="#ff0000"/>
<line x1="5" y1="452.5" x2="1049" y2="452.5" stroke="#c0c0c0" stroke-width="1" stroke-dasharray="3 3"/>
<line x1="5" y1="486.5" x2="1049" y2="486.5" stroke="#c0c0c0" stroke-width="1" stroke-dasharray="3 3"/>
<path d="M4 469h4v1h-4zM8 470h6v1h-6zM14 471h2v1h-2zM16 472h2v1h-2zM18 473h2v1h-2zM20 474h2v1h-2zM22 473h2v1h-2zM24 472h3v1h-3zM27 471h3v1h-3zM30 472h1v1h-1zM31 473h2v1h-2zM33 474h2v1h-2zM35 475h1v1h-1zM36 476h3v1h-3zM39 477h2v1h-2zM41 478h3v1h-3zM44 479h2v1h-2zM46 478h2v1h-2zM48 477h3v1h-3zM51 476h4v1h-4zM55 477h4v1h-4zM59 478h3v1h-3zM62 477h4v1h-4zM66 476h5v1h-5zM71 477h4v1h-4zM75 478h2v1h-2zM77 477h1v1h-1zM78 476h1v1h-1zM79 475h1v1h-1zM80 474h2v1h-2zM82 473h1v1h-1zM83 472h1v1h-1zM84 471h5v1h-5zM89 472h7v1h-7zM96 471h5v1h-5zM101 472h2v1h-2zM103 473h1v1h-1zM104 474h2v1h-2zM106 475h2v1h-2zM108 476h2v1h-2zM110 475h3v1h-3zM113 474h2v1h-2zM115 473h3v1h-3zM118 472h4v1h-4zM122 471h2v1h-2zM124 470h1v2h-1zM125 469h1v1h-1zM126 467h1v2h-1zM127 466h1v1h-1zM128 464h1v2h-1zM129 463h1v1h-1zM130 461h1v2h-1zM131 460h1v1h-1zM132 459h2v1h-2zM134 460h3v1h-3zM137 461h2v1h-2zM139 462h5v1h-5zM144 461h15v1h-15zM159 460h7v1h-7zM166 461h3v1h-3zM169 462h2v1h-2zM171 463h2v1h-2zM173 464h1v1h-1zM174 465h1v1h-1zM175 466h1v1h-1zM176 467h1v1h-1zM177 468h1v1h-1zM178 469h1v1h-1zM179 470h1v1h-1zM180 471h5v1h-5zM185 472h17v1h-17zM202 473h4v1h-4zM206 474h2v1h-2zM208 475h2v1h-2zM210 476h2v1h-2zM212 477h11v1h-11zM223 476h6v1h-6zM229 475h5v1h-5zM234 474h12v1h-12zM246 473h4v1h-4zM250 472h3v1h-3zM253 470h1v2h-1zM254 469h1v1h-1zM255 467h1v2h-1zM256 466h1v1h-1zM257 465h1v1h-1zM258 463h1v2h-1zM259 462h1v1h-1zM260 461h2v1h-2zM262 462h3v1h-3zM265 463h2v1h-2zM267 464h3v1h-3zM270 465h1v1h-1zM271 466h2v1h-2zM273 467h2v1h-2zM275 468h1v1h-1zM276 469h2v1h-2zM278 470h2v1h-2zM280 471h2v1h-2zM282 472h2v1h-2zM284 473h18v1h-18zM302 474h1v1h-1zM303 475h1v1h-1zM304 476h1v1h-1zM305 477h2v1h-2zM307 478h1v1h-1zM308 479h3v1h-3zM311 478h15v1h-15zM326 479h1v1h-1zM327 480h2v1h-2zM329 481h2v1h-2zM331 482h1v1h-1zM332 483h3v1h-3zM335 484h2v1h-2zM337 485h3v1h-3zM340 486h1v1h-1zM341 485h3v1h-3zM344 484h2v1h-2zM346 483h4v1h-4zM350 484h2v1h-2zM352 485h2v1h-2zM354 486h2v1h-2zM356 487h12v1h-12zM368 486h13v1h-13zM381 487h1v1h-1zM382 488h1v1h-1zM383 489h2v1h-2zM385 490h1v1h-1zM386 491h1v1h-1zM387 492h1v1h-1zM388 492h1v2h-1zM389 491h1v1h-1zM390 489h1v2h-1zM391 488h1v1h-1zM392 486h1v2h-1zM393 485h1v1h-1zM394 483h1v2h-1zM395 482h1v1h-1zM396 481h5v1h-5zM401 482h12v1h-12zM413 481h2v1h-2zM415 480h2v1h-2zM417 479h2v1h-2zM419 478h3v1h-3zM422 479h2v1h-2zM424 480h2v1h-2zM426 481h2v1h-2zM428 482h2v1h-2zM430 481h4v1h-4zM434 480h7v1h-7zM441 481h21v1h-21zM462 482h3v1h-3zM465 483h3v1h-3zM468 484h6v1h-6zM474 485h5v1h-5zM479 484h13v1h-13zM492 483h1v2h-1zM493 481h1v2h-1zM494 479h1v2h-1zM495 478h1v1h-1zM496 476h1v2h-1zM497 474h1v2h-1zM498 473h1v1h-1zM499 471h1v2h-1zM500 470h2v1h-2zM502 469h3v1h-3zM505 468h4v1h-4zM509 467h31v1h-31zM540 466h1v2h-1zM541 465h1v1h-1zM542 464h1v1h-1zM543 462h1v2h-1zM544 461h1v1h-1zM545 460h1v1h-1zM546 458h1v2h-1zM547 457h1v1h-1zM548 456h1v1h-1zM549 457h1v1h-1zM550 458h1v1h-1zM551 459h1v1h-1zM552 460h1v2h-1zM553 462h1v1h-1zM554 463h1v1h-1zM555 464h1v1h-1zM556 465h2v1h-2zM558 464h2v1h-2zM560 463h3v1h-3zM563 462h3v1h-3zM566 463h3v1h-3zM569 464h2v1h-2zM571 465h5v1h-5zM576 464h6v1h-6zM582 463h2v1h-2zM584 462h3v1h-3zM587 461h2v1h-2zM589 462h2v1h-2zM591 463h1v1h-1zM592 464h2v1h-2zM594 465h1v1h-1zM595 466h1v1h-1zM596 467h9v1h-9zM605 466h1v1h-1zM606 465h1v1h-1zM607 464h1v1h-1zM608 463h1v1h-1zM609 462h1v1h-1zM610 461h1v1h-1zM611 460h1v1h-1zM612 459h4v1h-4zM616 458h10v1h-10zM626 459h11v1h-11zM637 458h3v1h-3zM640 457h2v1h-2zM642 456h3v1h-3zM645 457h1v1h-1zM646 458h2v1h-2zM648 459h1v1h-1zM649 460h1v1h-1zM650 461h1v1h-1zM651 462h1v1h-1zM652 463h1v1h-1zM653 462h2v1h-2zM655 461h1v1h-1zM656 460h2v1h-2zM658 459h2v1h-2zM660 458h2v1h-2zM662 457h4v1h-4zM666 456h3v1h-3zM669 455h3v1h-3zM672 454h2v1h-2zM674 453h7v1h-7zM681 454h4v1h-4zM685 455h2v1h-2zM687 456h1v1h-1zM688 457h2v1h-2zM690 458h1v1h-1zM691 459h2v1h-2zM693 460h2v1h-2zM695 461h2v1h-2zM697 462h3v1h-3zM700 463h11v1h-11zM711 464h3v1h-3zM714 465h4v1h-4zM718 464h1v1h-1zM719 463h2v1h-2zM721 462h2v1h-2zM723 461h10v1h-10zM733 460h2v1h-2zM735 459h2v1h-2zM737 458h2v1h-2zM739 457h7v1h-7zM746 458h4v1h-4zM750 457h2v1h-2zM752 456h3v1h-3zM755 455h2v1h-2zM757 456h2v1h-2zM759 457h2v1h-2zM761 458h1v1h-1zM762 459h2v1h-2zM764 460h10v1h-10zM774 459h4v1h-4zM778 458h11v1h-11zM789 459h2v1h-2zM791 460h1v1h-1zM792 461h2v1h-2zM794 462h1v1h-1zM795 463h1v1h-1zM796 464h1v1h-1zM797 463h2v1h-2zM799 462h2v1h-2zM801 461h3v1h-3zM804 460h4v1h-4zM808 459h5v1h-5zM813 458h3v1h-3zM816 457h2v1h-2zM818 456h3v1h-3z" fill="#1e90ff"/>
<rect x="1050" y="43" width="2" height="1" fill="#000"/>
<rect x="1050" y="77" width="2" height="1" fill="#000"/>
<rect x="1050" y="110" width="2" height="1" fill="#000"/>
<rect x="1050" y="143" width="2" height="1" fill="#000"/>
<rect x="1050" y="176" width="2" height="1" fill="#000"/>
<rect x="1050" y="209" width="2" height="1" fill="#000"/>
<rect x="1050" y="242" width="2" height="1" fill="#000"/>
<rect x="1050" y="275" width="2" height="1" fill="#000"/>
<rect x="1050" y="308" width="2" height="1" fill="#000"/>
<rect x="1050" y="341" width="2" height="1" fill="#000"/>
<rect x="1050" y="374" width="2" height="1" fill="#000"/>
<rect x="1050" y="381" width="2" height="1" fill="#000"/>
<rect x="1050" y="397" width="2" height="1" fill="#000"/>
<rect x="1050" y="421" width="2" height="1" fill="#000"/>
<rect x="1050" y="426" width="2" height="1" fill="#000"/>
<rect x="1050" y="452" width="2" height="1" fill="#000"/>
<rect x="1050" y="486" width="2" height="1" fill="#000"/>
<rect x="1050" y="512" width="2" height="1" fill="#000"/>
<rect x="4" y="514" width="1" height="3" fill="#000"/>
<rect x="68" y="514" width="1" height="3" fill="#000"/>
<rect x="132" y="514" width="1" height="3" fill="#000"/>
<rect x="196" y="514" width="1" height="3" fill="#000"/>
<rect x="260" y="514" width="1" height="3" fill="#000"/>
<rect x="324" y="514" width="1" height="3" fill="#000"/>
<rect x="388" y="514" width="1" height="3" fill="#000"/>
<rect x="452" y="514" width="1" height="3" fill="#000"/>
<rect x="516" y="514" width="1" height="3" fill="#000"/>
<rect x="580" y="514" width="1" height="3" fill="#000"/>
<rect x="644" y="514" width="1" height="3" fill="#000"/>
<rect x="708" y="514" width="1" height="3" fill="#000"/>
<rect x="772" y="514" width="1" height="3" fill="#000"/>
<rect x="1082" y="428" width="2" height="44" fill="#46566c"/>
<circle cx="1085.7" cy="476" r="5.2" fill="#2eaee6" stroke="#5c6c80" stroke-width="1.3" shape-rendering="auto"/>
<rect x="0" y="7" width="1" height="1" fill="#585858"/>
<rect x="2" y="7" width="1" height="1" fill="#585858"/>
<rect x="4" y="7" width="1" height="1" fill="#585858"/>
<rect x="6" y="7" width="1" height="1" fill="#585858"/>
<rect x="8" y="7" width="1" height="1" fill="#585858"/>
<rect x="10" y="7" width="1" height="1" fill="#585858"/>
<rect x="12" y="7" width="1" height="1" fill="#585858"/>
<rect x="0" y="11" width="1" height="1" fill="#585858"/>
<rect x="2" y="11" width="1" height="1" fill="#585858"/>
<rect x="4" y="11" width="1" height="1" fill="#585858"/>
<rect x="6" y="11" width="1" height="1" fill="#585858"/>
<rect x="8" y="11" width="1" height="1" fill="#585858"/>
<rect x="10" y="11" width="1" height="1" fill="#585858"/>
<rect x="12" y="11" width="1" height="1" fill="#585858"/>
<rect x="0" y="14" width="1" height="1" fill="#585858"/>
<rect x="2" y="14" width="1" height="1" fill="#585858"/>
<rect x="4" y="14" width="1" height="1" fill="#585858"/>
<rect x="6" y="14" width="1" height="1" fill="#585858"/>
<rect x="8" y="14" width="1" height="1" fill="#585858"/>
<rect x="10" y="14" width="1" height="1" fill="#585858"/>
<rect x="12" y="14" width="1" height="1" fill="#585858"/>
<rect x="0" y="18" width="1" height="1" fill="#585858"/>
<rect x="2" y="18" width="1" height="1" fill="#585858"/>
<rect x="4" y="18" width="1" height="1" fill="#585858"/>
<rect x="6" y="18" width="1" height="1" fill="#585858"/>
<rect x="8" y="18" width="1" height="1" fill="#585858"/>
<rect x="57" y="8" width="1" height="1" fill="#585858"/>
<rect x="57" y="20" width="1" height="1" fill="#585858"/>
<rect x="59" y="8" width="1" height="1" fill="#585858"/>
<rect x="59" y="20" width="1" height="1" fill="#585858"/>
<rect x="61" y="8" width="1" height="1" fill="#585858"/>
<rect x="61" y="20" width="1" height="1" fill="#585858"/>
<rect x="63" y="8" width="1" height="1" fill="#585858"/>
<rect x="63" y="20" width="1" height="1" fill="#585858"/>
<rect x="65" y="8" width="1" height="1" fill="#585858"/>
<rect x="65" y="20" width="1" height="1" fill="#585858"/>
<rect x="67" y="8" width="1" height="1" fill="#585858"/>
<rect x="67" y="20" width="1" height="1" fill="#585858"/>
<rect x="57" y="8" width="1" height="1" fill="#585858"/>
<rect x="68" y="8" width="1" height="1" fill="#585858"/>
<rect x="57" y="10" width="1" height="1" fill="#585858"/>
<rect x="68" y="10" width="1" height="1" fill="#585858"/>
<rect x="57" y="12" width="1" height="1" fill="#585858"/>
<rect x="68" y="12" width="1" height="1" fill="#585858"/>
<rect x="57" y="14" width="1" height="1" fill="#585858"/>
<rect x="68" y="14" width="1" height="1" fill="#585858"/>
<rect x="57" y="16" width="1" height="1" fill="#585858"/>
<rect x="68" y="16" width="1" height="1" fill="#585858"/>
<rect x="57" y="18" width="1" height="1" fill="#585858"/>
<rect x="68" y="18" width="1" height="1" fill="#585858"/>
<rect x="57" y="20" width="1" height="1" fill="#585858"/>
<rect x="68" y="20" width="1" height="1" fill="#585858"/>
<rect x="56" y="7" width="2" height="1" fill="#585858"/>
<g shape-rendering="auto" fill="#585858"><path d="M87.5 7.4 L91.8 11.5 L87.5 12.8 L83.2 11.5 Z"/><path d="M94.5 21.4 L98.8 17.1 L94.5 15.8 L90.2 17.1 Z"/><path d="M86 14.4 L88.7 17.2 L93.2 11.8" fill="none" stroke="#585858" stroke-width="1.8"/></g>
<polygon points="104.5,13 110.5,13 107.5,16.5" fill="#000" shape-rendering="auto"/>
<rect x="120" y="4" width="3" height="1" fill="#b4b4b4"/>
<rect x="120" y="6" width="3" height="1" fill="#b4b4b4"/>
<rect x="120" y="8" width="3" height="1" fill="#b4b4b4"/>
<rect x="120" y="10" width="3" height="1" fill="#b4b4b4"/>
<rect x="120" y="12" width="3" height="1" fill="#b4b4b4"/>
<rect x="120" y="14" width="3" height="1" fill="#b4b4b4"/>
<rect x="120" y="16" width="3" height="1" fill="#b4b4b4"/>
<rect x="120" y="18" width="3" height="1" fill="#b4b4b4"/>
<rect x="120" y="20" width="3" height="1" fill="#b4b4b4"/>
<rect x="120" y="22" width="3" height="1" fill="#b4b4b4"/>
<polygon points="7.5,41 14,41 10.75,36.8" fill="#000" shape-rendering="auto"/>
</svg>
<div class="tf" style="left:131px">M1</div><div class="tf" style="left:159px">M5</div><div class="tf" style="left:185px">M15</div><div class="tf" style="left:213px">M30</div><div class="tf" style="left:244px">H1</div>
<div style="left:266px;top:2px;width:26px;height:22px;box-sizing:border-box;background:#f8f8f8;border:1px solid;border-color:#a0a0a0 #fff #fff #a0a0a0"></div>
<div class="tf" style="left:271px">H4</div><div class="tf" style="left:300px">D1</div><div class="tf" style="left:328px">W1</div><div class="tf" style="left:354px">MN</div>
<div class="tf" style="left:58.6px;top:9px;font-size:12px;font-weight:bold;color:#585858;line-height:13px">T</div><div class="tf" style="left:10px;top:17px;font-size:6.5px;font-weight:bold;color:#484848;line-height:7px">F</div>
<div style="left:116px;top:1px;width:1px;height:25px;background:#a8a8a8"></div>
<div style="left:377px;top:1px;width:1px;height:25px;background:#a8a8a8"></div>
<div class="tf" style="left:31px;top:8px;font-size:12px;font-weight:bold;color:#606060;line-height:14px">A</div>
<div class="al" style="top:38px">3289.0</div>
<div class="al" style="top:72px">3253.0</div>
<div class="al" style="top:105px">3218.0</div>
<div class="al" style="top:138px">3182.0</div>
<div class="al" style="top:171px">3147.0</div>
<div class="al" style="top:204px">3112.0</div>
<div class="al" style="top:237px">3076.0</div>
<div class="al" style="top:270px">3041.0</div>
<div class="al" style="top:303px">3005.0</div>
<div class="al" style="top:336px">2970.0</div>
<div class="pl" style="top:34px;background:#ff0000;color:#fff">3293.0</div>
<div class="pl" style="top:95px;background:#000;color:#fff">3228.3</div>
<div class="pl" style="top:133px;background:#00ff7f;color:#fff">3187.0</div>
<div class="pl" style="top:192px;background:#0000ff;color:#fff">3123.0</div>
<div class="pl" style="top:253px;background:#0000ff;color:#fff">3058.0</div>
<div class="pl" style="top:369px;background:#008000;color:#fff">2933.8</div>
<div class="al" style="top:380px;left:1053.5px">36.06</div>
<div class="al" style="top:392px;left:1053.5px">0.00</div>
<div class="al" style="top:410px;left:1053.5px">-53.17</div>
<div class="al" style="top:426px;left:1053.5px">100</div>
<div class="al" style="top:447px;left:1053.5px">70</div>
<div class="al" style="top:481px;left:1053.5px">30</div>
<div class="al" style="top:501px;left:1053.5px">0</div>
<div class="dl" style="left:3px">21 Nov 2018</div>
<div class="dl" style="left:67px">27 Nov 01:30</div>
<div class="dl" style="left:131px">3 Dec 01:30</div>
<div class="dl" style="left:195px">7 Dec 01:30</div>
<div class="dl" style="left:259px">13 Dec 01:30</div>
<div class="dl" style="left:323px">19 Dec 01:30</div>
<div class="dl" style="left:387px">25 Dec 01:30</div>
<div class="dl" style="left:451px">31 Dec 01:30</div>
<div class="dl" style="left:515px">7 Jan 01:30</div>
<div class="dl" style="left:579px">11 Jan 01:30</div>
<div class="dl" style="left:643px">17 Jan 01:30</div>
<div class="dl" style="left:707px">23 Jan 01:30</div>
<div class="dl" style="left:771px">29 Jan 01:30</div>
<div class="hd">CHINA300-,H4&nbsp; 3226.8 3233.1 3223.9 3228.3</div>
<div class="il" style="top:383px">MACD(12,26,9) 26.12 26.53</div>
<div class="il" style="top:428px">RSI(14) 65.3702</div>
<div id="note">多空转折的3187</div>
<div id="pw"></div>
<div class="pt" style="left:7px">SELL</div>
<div class="pt" style="left:174px;letter-spacing:0;padding-right:2px">BUY</div>
<div class="pb" style="left:7px;width:109px"><div class="sm" style="left:22px">3226</div><div class="dot" style="left:53px">.</div><svg width="109" height="40" style="position:absolute;left:-1px;top:0"><defs><linearGradient id="pg1" gradientUnits="userSpaceOnUse" x1="0" y1="0" x2="0" y2="40"><stop offset="0" stop-color="#dc3030"/><stop offset="1" stop-color="#a60000"/></linearGradient></defs><text x="61" y="32" font-family="Liberation Sans, sans-serif" font-size="36" fill="#fff" stroke="url(#pg1)" stroke-width="0.9">8</text></svg></div>
<div class="pb" style="left:118px;width:108px"><div class="sm" style="left:21px">3232</div><div class="dot" style="left:53px">.</div><svg width="108" height="40" style="position:absolute;left:-1px;top:0"><text x="59.6" y="32" font-family="Liberation Sans, sans-serif" font-size="36" fill="#fff" stroke="url(#pg1)" stroke-width="0.9">4</text></svg></div>
<div style="left:59px;top:74px;width:57px;height:1px;background:#c00808"></div><div style="left:118px;top:74px;width:56px;height:1px;background:#c00808"></div><div class="ul" style="left:11px"></div><div class="ul2" style="left:11px"></div>
<div class="ul" style="left:178px"></div><div class="ul2" style="left:178px"></div>
<div id="vol"><div class="fld"></div><div class="vb" style="left:1px"><svg width="16" height="16" style="position:absolute;left:0;top:0"><polygon points="5,7 11,7 8,10.3" fill="#4a5cb4"/></svg></div><div class="vb" style="right:1px"><svg width="16" height="16" style="position:absolute;left:0;top:0"><polygon points="5,10.3 11,10.3 8,7" fill="#4a5cb4"/></svg></div><div id="vt">1.00</div></div>
</body></html>
